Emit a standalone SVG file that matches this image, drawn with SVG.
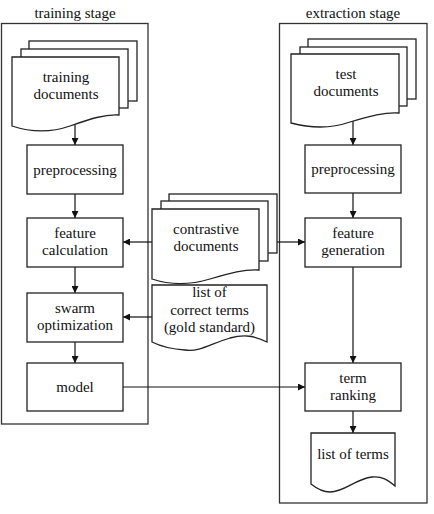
<svg xmlns="http://www.w3.org/2000/svg" width="434" height="514" viewBox="0 0 434 514">
<defs>
<marker id="ah" viewBox="0 0 10 10" refX="10" refY="5" markerWidth="7" markerHeight="7" markerUnits="userSpaceOnUse" orient="auto">
<path d="M0,0 L10,5 L0,10 Z" fill="#111"/>
</marker>
<style>
.box{fill:#fff;stroke:#222;stroke-width:1.3}
.cont{fill:none;stroke:#333;stroke-width:1.3}
text{font-family:'Liberation Serif','DejaVu Serif',serif;font-size:15px;fill:#111;text-anchor:middle}
.arr{fill:none;stroke:#111;stroke-width:1.2;marker-end:url(#ah)}
</style>
</defs>
<rect width="434" height="514" fill="#fff"/>

<g id="training-stage" font-family="Liberation Serif, DejaVu Serif, serif">
<rect class="cont" x="1.5" y="23.5" width="146.5" height="400.5"/>
<text x="75" y="18">training stage</text>
</g>
<g id="extraction-stage" font-family="Liberation Serif, DejaVu Serif, serif">
<rect class="cont" x="279.5" y="23.5" width="147.5" height="479.5"/>
<text x="353" y="18">extraction stage</text>
</g>

<g id="connectors">
<line class="arr" x1="75" y1="124" x2="75" y2="145"/>
<line class="arr" x1="75" y1="194" x2="75" y2="218"/>
<line class="arr" x1="75" y1="267" x2="75" y2="293"/>
<line class="arr" x1="75" y1="342" x2="75" y2="363"/>
<line class="arr" x1="353" y1="119" x2="353" y2="145"/>
<line class="arr" x1="353" y1="193" x2="353" y2="218"/>
<line class="arr" x1="353" y1="267" x2="353" y2="363"/>
<line class="arr" x1="353" y1="411" x2="353" y2="433"/>
<line class="arr" x1="152" y1="242" x2="123" y2="242"/>
<line class="arr" x1="277" y1="242" x2="305" y2="242"/>
<line class="arr" x1="152" y1="317" x2="123" y2="317"/>
<line class="arr" x1="123" y1="387" x2="305" y2="387"/>
</g>

<g id="training-documents">
<rect class="box" x="29" y="41" width="108" height="60"/>
<rect class="box" x="21" y="49" width="107" height="59"/>
<path class="box" d="M12,57 H119 V115 C105,114 90,119 70,126 C50,133 30,132 12,126 Z"/>
<text x="66" y="82">training</text>
<text x="66" y="99">documents</text>
</g>

<g id="preprocessing-train">
<rect class="box" x="27" y="145" width="96" height="49"/>
<text x="75" y="174.5">preprocessing</text>
</g>

<g id="feature-calculation">
<rect class="box" x="27" y="218" width="96" height="49"/>
<text x="75" y="238">feature</text>
<text x="75" y="255">calculation</text>
</g>

<g id="swarm-optimization">
<rect class="box" x="27" y="293" width="96" height="49"/>
<text x="75" y="313">swarm</text>
<text x="75" y="330">optimization</text>
</g>

<g id="model">
<rect class="box" x="27" y="363" width="96" height="48"/>
<text x="75" y="392">model</text>
</g>

<g id="contrastive-documents">
<rect class="box" x="169" y="194" width="108" height="59"/>
<rect class="box" x="161" y="201" width="107" height="60"/>
<path class="box" d="M152,209 H259 V270 C245,269 230,273 210,279 C190,285 170,285 152,279 Z"/>
<text x="206" y="234">contrastive</text>
<text x="206" y="251">documents</text>
</g>

<g id="list-of-correct-terms">
<path class="box" d="M152,285 H267 V342 C255,336 245,334 230,338 C210,344 200,352 185,350 C170,349 160,346 152,342 Z"/>
<text x="209.5" y="297">list of</text>
<text x="209.5" y="315">correct terms</text>
<text x="209.5" y="332">(gold standard)</text>
</g>

<g id="test-documents">
<rect class="box" x="308" y="39" width="108" height="60"/>
<rect class="box" x="300" y="47" width="107" height="59"/>
<path class="box" d="M291,54 H399 V113 C385,112 370,116 350,122 C330,129 310,128 291,123 Z"/>
<text x="346" y="79">test</text>
<text x="346" y="96">documents</text>
</g>

<g id="preprocessing-extract">
<rect class="box" x="305" y="145" width="96" height="48"/>
<text x="353" y="174">preprocessing</text>
</g>

<g id="feature-generation">
<rect class="box" x="305" y="218" width="96" height="49"/>
<text x="353" y="238">feature</text>
<text x="353" y="255">generation</text>
</g>

<g id="term-ranking">
<rect class="box" x="305" y="363" width="96" height="48"/>
<text x="353" y="383">term</text>
<text x="353" y="400">ranking</text>
</g>

<g id="list-of-terms">
<path class="box" d="M311,433 H395 V486 C388,480 382,476 372,477 C355,479 345,492 330,492 C322,492 316,488 311,484 Z"/>
<text x="353" y="459">list of terms</text>
</g>
</svg>
